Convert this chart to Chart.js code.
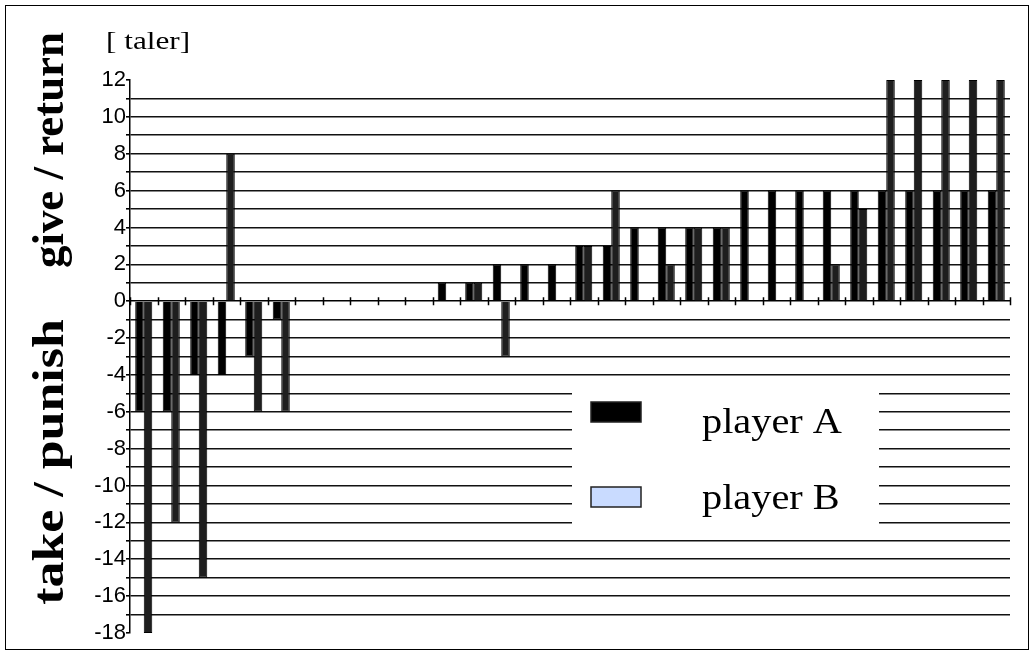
<!DOCTYPE html>
<html>
<head>
<meta charset="utf-8">
<script src="https://cdn.jsdelivr.net/npm/chart.js@4/dist/chart.umd.min.js"></script>
<style>
    html, body { margin: 0; padding: 0; background: #fff; }
    #wrap { position: relative; width: 1034px; height: 650px; }
    #frame { position: absolute; left: 5px; top: 5px; width: 1022px; height: 643px; border: 1px solid #000; pointer-events: none; }
    canvas { position: absolute; left: 0; top: 0; }
</style>
</head>
<body>
<div id="wrap">
    <canvas id="chart" width="1034" height="650"></canvas>
    <div id="frame"></div>
</div>
<script>
    // one category per pair of players, left to right
    const pairLabels = ['1', '2', '3', '4', '5', '6', '7', '8', '9', '10', '11', '12', '13', '14', '15', '16',
        '17', '18', '19', '20', '21', '22', '23', '24', '25', '26', '27', '28', '29', '30', '31', '32'];
    const playerA = [-6, -6, -4, -4, -3, -1, 0, 0, 0, 0, 0, 1, 1, 2, 2, 2, 3, 3, 4, 4, 4, 4, 6, 6, 6, 6, 6, 6, 6, 6, 6, 6];
    const playerB = [-18, -12, -15, 8, -6, -6, 0, 0, 0, 0, 0, 0, 1, -3, 0, 0, 3, 6, 0, 2, 4, 4, 0, 0, 0, 2, 5, 12, 12, 12, 12, 12];
    const seriesNames = ['player A', 'player B'];
    const legendColors = ['#000000', '#c9dbff'];
    const yMin = -18;
    const yMax = 12;
    const unitLabel = '[ taler]';
    const upperTitle = 'give / return';
    const lowerTitle = 'take / punish';

    const serif = '"Liberation Serif", "Times New Roman", serif';

    function rotatedText(ctx, text, x, y, stretch) {
        ctx.save();
        ctx.translate(x, y);
        ctx.rotate(-Math.PI / 2);
        ctx.scale(stretch, 1);
        ctx.fillText(text, 0, 0);
        ctx.restore();
    }

    const chartDecor = {
        id: 'chartDecor',
        afterDraw(chart) {
            const ctx = chart.ctx;
            const area = chart.chartArea;
            const xs = chart.scales.x;
            const ys = chart.scales.y;
            const zeroY = ys.getPixelForValue(0);
            ctx.save();

            // small tick marks across the zero line
            const step = xs.getPixelForTick(1) - xs.getPixelForTick(0);
            ctx.strokeStyle = '#000';
            ctx.lineWidth = 1.5;
            ctx.beginPath();
            for (let i = 0; i <= pairLabels.length; i++) {
                const px = Math.round(xs.getPixelForTick(0) - step / 2 + i * step) + 0.5;
                ctx.moveTo(px, zeroY - 4);
                ctx.lineTo(px, zeroY + 4);
            }
            ctx.stroke();

            // unit label
            ctx.fillStyle = '#000';
            ctx.textAlign = 'left';
            ctx.textBaseline = 'alphabetic';
            ctx.font = '25px ' + serif;
            ctx.save();
            ctx.translate(106, 49);
            ctx.scale(1.25, 1);
            ctx.fillText(unitLabel, 0, 0);
            ctx.restore();

            // axis titles
            ctx.font = 'bold 44px ' + serif;
            ctx.textAlign = 'center';
            ctx.textBaseline = 'middle';
            rotatedText(ctx, upperTitle, 52, 150, 1.02);
            rotatedText(ctx, lowerTitle, 52, 462, 1.18);

            // legend box inside the plot
            const boxLeft = area.left + 442;
            const boxTop = 384;
            ctx.fillStyle = '#fff';
            ctx.fillRect(boxLeft, boxTop, 307, 154);
            const rows = [402, 487];
            const baselines = [433, 509];
            seriesNames.forEach((name, i) => {
                ctx.fillStyle = legendColors[i];
                ctx.fillRect(boxLeft + 19, rows[i], 50, 20);
                ctx.strokeStyle = '#222';
                ctx.lineWidth = 1.5;
                ctx.strokeRect(boxLeft + 19, rows[i], 50, 20);
                ctx.fillStyle = '#000';
                ctx.font = '36px ' + serif;
                ctx.textAlign = 'left';
                ctx.textBaseline = 'alphabetic';
                ctx.save();
                ctx.translate(boxLeft + 130, baselines[i]);
                ctx.scale(1.12, 1);
                ctx.fillText(name, 0, 0);
                ctx.restore();
            });
            ctx.restore();
        }
    };

    new Chart(document.getElementById('chart'), {
        type: 'bar',
        data: {
            labels: pairLabels,
            datasets: [{
                label: seriesNames[0],
                data: playerA,
                backgroundColor: '#000000',
                borderColor: '#000000',
                borderWidth: 1,
            }, {
                label: seriesNames[1],
                data: playerB,
                backgroundColor: '#1e1e1e',
                borderColor: '#000000',
                borderWidth: 1,
            }]
        },
        options: {
            responsive: false,
            animation: false,
            categoryPercentage: 0.62,
            barPercentage: 1.0,
            layout: { padding: { top: 80, right: 24, bottom: 17, left: 0 } },
            plugins: {
                legend: { display: false },
                tooltip: { enabled: false }
            },
            scales: {
                x: {
                    position: { y: 0 },
                    ticks: { display: false },
                    grid: { color: 'transparent', drawTicks: false },
                    border: { display: true, color: '#000', width: 1.5 }
                },
                y: {
                    min: yMin,
                    max: yMax,
                    afterFit(scale) { scale.width = 130; },
                    ticks: {
                        stepSize: 1,
                        autoSkip: false,
                        padding: 0,
                        color: '#000',
                        font: { family: '"Liberation Sans", Arial, sans-serif', size: 22 },
                        callback: v => (v % 2 === 0 ? v : '')
                    },
                    grid: {
                        color: c => (c.tick && (c.tick.value === yMax || c.tick.value === yMin || c.tick.value === 0) ? 'transparent' : '#111'),
                        lineWidth: 1.6,
                        tickColor: '#000',
                        tickLength: 4
                    },
                    border: { display: true, color: '#000', width: 1.5 }
                }
            }
        },
        plugins: [chartDecor]
    });
</script>
</body>
</html>
